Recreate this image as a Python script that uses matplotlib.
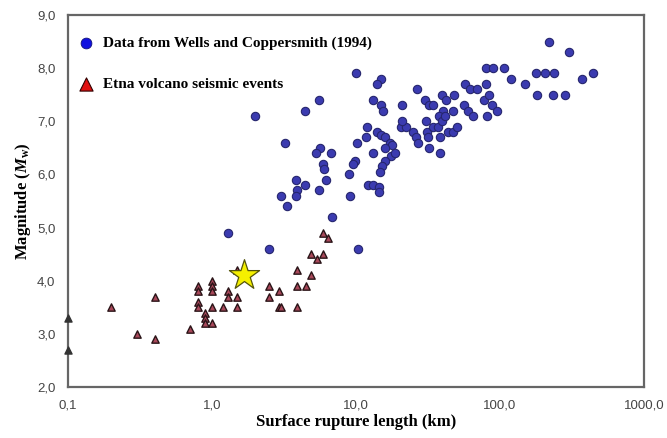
import numpy as np
import matplotlib
matplotlib.use("Agg")
import matplotlib.pyplot as plt

plt.rcParams['mathtext.fontset'] = 'custom'
plt.rcParams['mathtext.rm'] = 'Liberation Serif:bold'
plt.rcParams['mathtext.it'] = 'Liberation Serif:italic:bold'

# Wells and Coppersmith (1994): surface rupture length (km), magnitude
wc_length = [1.3, 2.5, 2.0, 3.2, 5.5, 4.4, 5.6, 5.3, 6.7, 5.9, 6.0, 6.2, 3.8, 4.4,
             3.9, 3.8, 3.0, 5.5, 3.3, 6.8, 9.1, 9.0, 10.1, 9.8, 9.5, 10.4,
             10.0, 14.8, 13.9, 13.1, 14.8, 15.3, 20.8, 26.5, 30, 32, 34.5, 39.7,
             42, 48, 40, 38, 47, 57, 62, 69, 80, 56, 60, 65, 77, 84, 88, 96, 81,
             80, 90, 107, 120, 150, 220, 300, 178, 205, 237, 180, 232, 283, 370,
             440, 20.4, 22.3, 20.8, 12.0, 13.9, 14.9, 16.0, 17.2, 17.7, 11.8,
             13.1, 15.9, 17.6, 18.8, 15.8, 15.1, 14.7, 12.2, 13.2, 14.5, 14.5,
             24.9, 25.9, 27.1, 31, 31.4, 32, 38.4, 38.5, 34.5, 37, 39.4, 41.5,
             30.8, 43.8, 47.4, 50.3]
wc_mag = [4.9, 4.6, 7.1, 6.6, 7.4, 7.2, 6.5, 6.4, 6.4, 6.2, 6.1, 5.9, 5.9, 5.8,
          5.7, 5.6, 5.6, 5.7, 5.4, 5.2, 5.6, 6.0, 6.6, 6.25, 6.2, 4.6,
          7.9, 7.8, 7.7, 7.4, 7.3, 7.2, 7.3, 7.6, 7.4, 7.3, 7.3, 7.5,
          7.4, 7.5, 7.2, 7.1, 7.2, 7.7, 7.6, 7.6, 7.7, 7.3, 7.2, 7.1, 7.4, 7.5, 7.3, 7.2, 7.1,
          8.0, 8.0, 8.0, 7.8, 7.7, 8.5, 8.3, 7.9, 7.9, 7.9, 7.5, 7.5, 7.5, 7.8,
          7.9, 6.9, 6.9, 7.0, 6.9, 6.8, 6.75, 6.7, 6.6, 6.55, 6.7,
          6.4, 6.5, 6.35, 6.4, 6.25, 6.15, 6.05, 5.8, 5.8, 5.77, 5.67,
          6.8, 6.7, 6.6, 6.8, 6.7, 6.5, 6.7, 6.4, 6.9, 6.9, 7.0, 7.1,
          7.0, 6.8, 6.8, 6.9]

# Etna volcano seismic events
etna_length = [0.2, 0.3, 0.4, 0.4, 0.7, 0.8, 0.8, 0.8, 0.8, 0.9, 0.9, 0.9, 1.0,
               1.0, 1.0, 1.0, 1.0, 1.2, 1.3, 1.3, 1.5, 1.5, 1.5, 2.5, 2.5, 2.9,
               2.9, 3.0, 3.9, 3.9, 4.5, 3.9, 4.9, 4.9, 5.4, 5.9, 5.9, 6.4]
etna_mag = [3.5, 3.0, 3.7, 2.9, 3.1, 3.9, 3.8, 3.6, 3.5, 3.4, 3.3, 3.2, 3.2,
            4.0, 3.9, 3.8, 3.5, 3.5, 3.8, 3.7, 3.7, 3.5, 4.2, 3.9, 3.7, 3.8,
            3.5, 3.5, 4.2, 3.9, 3.9, 3.5, 4.1, 4.5, 4.4, 4.5, 4.9, 4.8]

# events drawn on the axis
axis_length = [0.1, 0.1]
axis_mag = [3.3, 2.7]

star_length = [1.67]
star_mag = [4.1]

xticks = [0.1, 1, 10, 100, 1000]
xlabels = ['0,1', '1,0', '10,0', '100,0', '1000,0']
yticks = [2, 3, 4, 5, 6, 7, 8, 9]
ylabels = ['2,0', '3,0', '4,0', '5,0', '6,0', '7,0', '8,0', '9,0']

fig = plt.figure(figsize=(6.67, 4.38), dpi=100)
ax = fig.add_axes([0.102, 0.1164, 0.8635, 0.8494])

ax.scatter(wc_length, wc_mag, s=36, color='#3b3bb0', edgecolor='#26266e',
           linewidth=0.8, zorder=3)
ax.scatter(etna_length, etna_mag, s=28, marker='^', color='#a8485a',
           edgecolor='#2a1518', linewidth=1.0, zorder=3)
ax.scatter(axis_length, axis_mag, s=26, marker='^', color='#333333',
           zorder=4, clip_on=False)
ax.scatter(star_length, star_mag, s=520, marker='*', color='#f5f000',
           edgecolor='#55550a', linewidth=0.9, zorder=5)

# legend entries
h1 = ax.scatter([], [], s=60, color='#1010e0', edgecolor='#10107a', linewidth=0.6)
h2 = ax.scatter([], [], s=90, marker='^', color='#e01010', edgecolor='#300000', linewidth=0.8)
ax.legend([h1, h2], ['Data from Wells and Coppersmith (1994)', 'Etna volcano seismic events'],
          loc='upper left', bbox_to_anchor=(-0.017, 0.975), frameon=False,
          labelspacing=1.75, handletextpad=0.15, borderpad=0.3,
          prop={'family': 'Liberation Serif', 'weight': 'bold', 'size': 11})

ax.set_xscale('log')
ax.set_xlim(0.1, 1000)
ax.set_ylim(2, 9)
ax.set_xticks(xticks)
ax.set_xticklabels(xlabels)
ax.set_yticks(yticks)
ax.set_yticklabels(ylabels)
ax.minorticks_off()
ax.tick_params(length=0, pad=9, labelsize=9.5, labelcolor='#444444')
for lab in ax.get_xticklabels() + ax.get_yticklabels():
    lab.set_family('Liberation Sans')

for sp in ax.spines.values():
    sp.set_color('#666666')
    sp.set_linewidth(1.6)

ax.set_xlabel('Surface rupture length (km)', family='Liberation Serif',
              weight='bold', fontsize=12, labelpad=2)
ax.set_ylabel(r'Magnitude ($M_\mathrm{w}$)', family='Liberation Serif',
              weight='bold', fontsize=12, labelpad=3)

fig.savefig('out.png', dpi=100)
